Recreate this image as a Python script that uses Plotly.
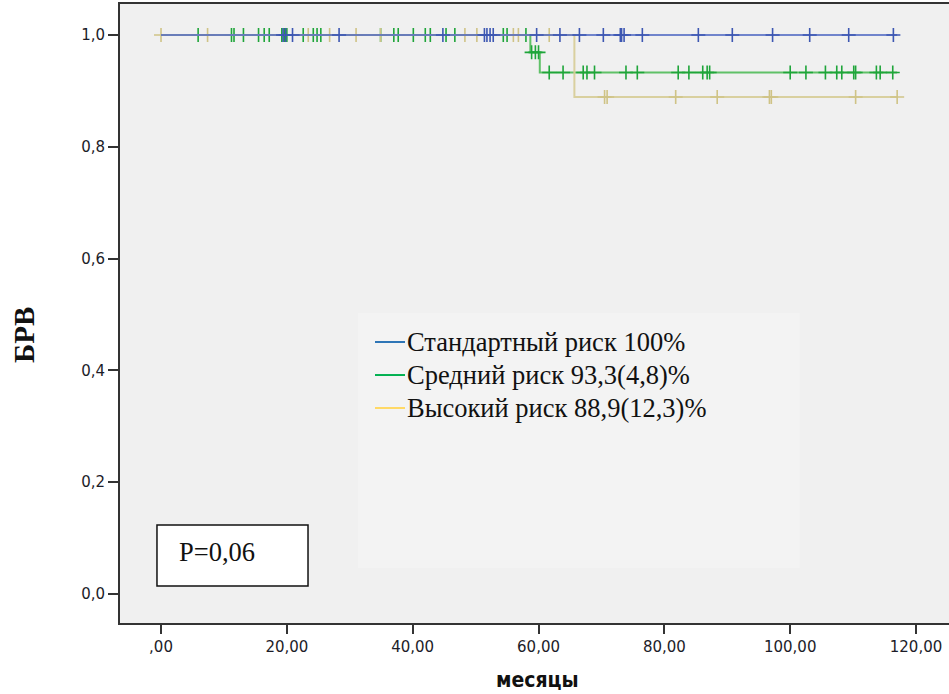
import plotly.graph_objects as go

# Kaplan-Meier curves: step times (months) and survival levels
std_times = [0, 117.0]
std_surv = [1.0, 1.0]
mid_times = [0, 58.7, 60.2, 117.0]
mid_surv = [1.0, 0.969, 0.933, 0.933]
high_times = [0, 65.7, 117.0]
high_surv = [1.0, 0.889, 0.889]

# censored observations (months)
std_censored = [19.4, 19.8, 20.9, 28.3, 44.8, 51.4, 51.8, 52.3, 52.8, 59.7, 63.4,
                66.5, 70.3, 73.0, 73.2, 73.6, 76.5, 85.4, 90.8, 97.2, 103.1,
                109.3, 116.4]
mid_censored = [5.9, 11.2, 11.6, 13.1, 15.5, 16.4, 17.2, 19.2, 19.6, 20.0, 22.6,
                24.2, 24.8, 25.4, 34.9, 37.0, 37.7, 40.1, 42.0, 42.8, 45.3, 46.7,
                54.4, 55.0, 58.0, 58.9, 59.5, 60.0, 61.7, 63.9, 67.1, 67.7, 68.9,
                73.9, 75.7, 82.2, 83.9, 86.1, 86.8, 87.2, 100.0, 102.5, 105.6,
                107.4, 108.2, 110.1, 110.4, 113.7, 114.3, 116.3]
high_censored = [0.0, 7.4, 23.4, 26.8, 31.0, 34.9, 48.3, 50.2, 56.0, 56.8, 61.7,
                 70.5, 70.9, 81.8, 88.4, 96.7, 97.0, 110.4, 117.0]

legend_labels = ["Стандартный риск 100%", "Средний риск 93,3(4,8)%",
                 "Высокий риск 88,9(12,3)%"]
p_label = "P=0,06"

x_ticks = [0, 20, 40, 60, 80, 100, 120]
x_tick_text = [",00", "20,00", "40,00", "60,00", "80,00", "100,00", "120,00"]
y_ticks = [0, 0.2, 0.4, 0.6, 0.8, 1.0]
y_tick_text = ["0,0", "0,2", "0,4", "0,6", "0,8", "1,0"]


def level_at(times, surv, t):
    """Survival value of a right-continuous step curve at time t."""
    val = surv[0]
    for ti, si in zip(times, surv):
        if ti <= t:
            val = si
    return val


groups = [
    (mid_times, mid_surv, mid_censored, "rgba(70,185,80,0.85)", "#1fa53a"),
    (high_times, high_surv, high_censored, "rgba(214,204,150,0.9)", "#cfc386"),
    (std_times, std_surv, std_censored, "rgba(80,105,195,0.8)", "#3d57b2"),
]

fig = go.Figure()
for times, surv, cens, line_col, mark_col in groups:
    fig.add_trace(go.Scatter(
        x=times, y=surv, mode="lines", line=dict(color=line_col, width=2, shape="hv"),
        showlegend=False, hoverinfo="skip"))
    fig.add_trace(go.Scatter(
        x=cens, y=[level_at(times, surv, t) for t in cens], mode="markers",
        marker=dict(symbol="cross-thin", size=10, line=dict(color=mark_col, width=1.6)),
        showlegend=False, hoverinfo="skip"))

shapes = []
annotations = []
serif = "Liberation Serif, Times New Roman, serif"

# legend panel
shapes.append(dict(type="rect", xref="paper", yref="paper", x0=0.287, x1=0.820,
                   y0=0.0889, y1=0.5008, line=dict(width=0), fillcolor="#f3f3f3",
                   layer="below"))
legend_cols = ["#2e75b6", "#00b050", "#ffd966"]
legend_y = [0.4540, 0.4006, 0.3473]
for lab, col, yy in zip(legend_labels, legend_cols, legend_y):
    shapes.append(dict(type="line", xref="paper", yref="paper", x0=0.3076, x1=0.3438,
                       y0=yy, y1=yy, line=dict(color=col, width=2)))
    annotations.append(dict(text=lab, xref="paper", yref="paper", x=0.3438, y=yy,
                            xanchor="left", yanchor="middle", showarrow=False,
                            font=dict(family=serif, size=26.5, color="#111")))

# p-value box
shapes.append(dict(type="rect", xref="paper", yref="paper", x0=0.0446, x1=0.2268,
                   y0=0.0598, y1=0.1583, line=dict(color="#111", width=1.5),
                   fillcolor="white"))
annotations.append(dict(text=p_label, xref="paper", yref="paper", x=0.0688, y=0.1147,
                        xanchor="left", yanchor="middle", showarrow=False,
                        font=dict(family=serif, size=26.5, color="#111")))

# axis titles
annotations.append(dict(text="<b>месяцы</b>", xref="paper", yref="paper", x=0.5036,
                        y=-0.0921, xanchor="center", yanchor="middle", showarrow=False,
                        font=dict(family="DejaVu Sans Condensed, Roboto, sans-serif",
                                  size=21, color="#111")))
annotations.append(dict(text="<b>БРВ</b>", xref="paper", yref="paper", x=-0.1158,
                        y=0.4653, xanchor="center", yanchor="middle", showarrow=False,
                        textangle=-90,
                        font=dict(family=serif, size=29, color="#111")))

tick_font = dict(family="DejaVu Sans", size=15, color="#1c1c28")
fig.update_layout(
    width=949, height=694,
    margin=dict(l=120, r=0, t=4, b=71),
    paper_bgcolor="white", plot_bgcolor="#f0f0f0",
    shapes=shapes, annotations=annotations,
    xaxis=dict(range=[-6.52, 125.24], tickvals=x_ticks, ticktext=x_tick_text,
               showgrid=False, zeroline=False, showline=True, mirror=True,
               linecolor="#333", linewidth=2, ticks="outside", ticklen=9,
               tickwidth=1.5, tickcolor="#333", tickfont=tick_font),
    yaxis=dict(range=[-0.0519, 1.0555], tickvals=y_ticks, ticktext=y_tick_text,
               showgrid=False, zeroline=False, showline=True, linecolor="#333",
               linewidth=2, ticks="outside", ticklen=10, tickwidth=1.5,
               tickcolor="#333", tickfont=tick_font),
)

fig.write_html("out.html")
